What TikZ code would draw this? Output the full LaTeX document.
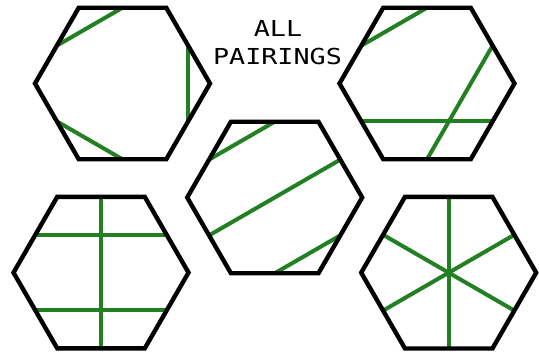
\documentclass[tikz,border=0pt]{standalone}
\usepackage{fontspec}
\newfontfamily\titlefont[FakeStretch=1.215]{DejaVu Sans Mono}
\usetikzlibrary{calc}
\definecolor{pairgreen}{RGB}{34,128,34}
\tikzset{
  hexagon/.style={draw=black, line width=4.4pt, line join=miter},
  chord/.style={draw=pairgreen, line width=4pt},
  titletext/.style={font=\titlefont\fontsize{22}{28}\selectfont, anchor=base, inner sep=0pt}
}
\begin{document}
\begin{tikzpicture}[x=1pt,y=1pt]
\useasboundingbox (0,0) rectangle (539,354);
\def\R{87.5pt}
\def\A{75.78pt}
\coordinate (h1) at (122.5,270.5);
\coordinate (h2) at (427,270.5);
\coordinate (h5) at (274.7,156.5);
\coordinate (h3) at (101,81.4);
\coordinate (h4) at (448.7,81.3);
% chords
\draw[chord] ($(h1)+(90:\A)$) -- ($(h1)+(150:\A)$);
\draw[chord] ($(h1)+(30:\A)$) -- ($(h1)+(330:\A)$);
\draw[chord] ($(h1)+(210:\A)$) -- ($(h1)+(270:\A)$);
\draw[chord] ($(h2)+(90:\A)$) -- ($(h2)+(150:\A)$);
\draw[chord] ($(h2)+(30:\A)$) -- ($(h2)+(270:\A)$);
\draw[chord] ($(h2)+(210:\A)$) -- ($(h2)+(330:\A)$);
\draw[chord] ($(h5)+(90:\A)$) -- ($(h5)+(150:\A)$);
\draw[chord] ($(h5)+(30:\A)$) -- ($(h5)+(210:\A)$);
\draw[chord] ($(h5)+(330:\A)$) -- ($(h5)+(270:\A)$);
\draw[chord] ($(h3)+(90:\A)$) -- ($(h3)+(270:\A)$);
\draw[chord] ($(h3)+(150:\A)$) -- ($(h3)+(30:\A)$);
\draw[chord] ($(h3)+(210:\A)$) -- ($(h3)+(330:\A)$);
\draw[chord] ($(h4)+(90:\A)$) -- ($(h4)+(270:\A)$);
\draw[chord] ($(h4)+(30:\A)$) -- ($(h4)+(210:\A)$);
\draw[chord] ($(h4)+(150:\A)$) -- ($(h4)+(330:\A)$);
% hexagons
\foreach \h in {h1,h2,h3,h4,h5}{
  \draw[hexagon] ($(\h)+(0:\R)$) -- ($(\h)+(60:\R)$) -- ($(\h)+(120:\R)$) -- ($(\h)+(180:\R)$) -- ($(\h)+(240:\R)$) -- ($(\h)+(300:\R)$) -- cycle;
}
\node[titletext] (title1) at (278,317.3) {ALL};
\node[titletext] (title2) at (277.5,289) {PAIRINGS};
\end{tikzpicture}
\end{document}
